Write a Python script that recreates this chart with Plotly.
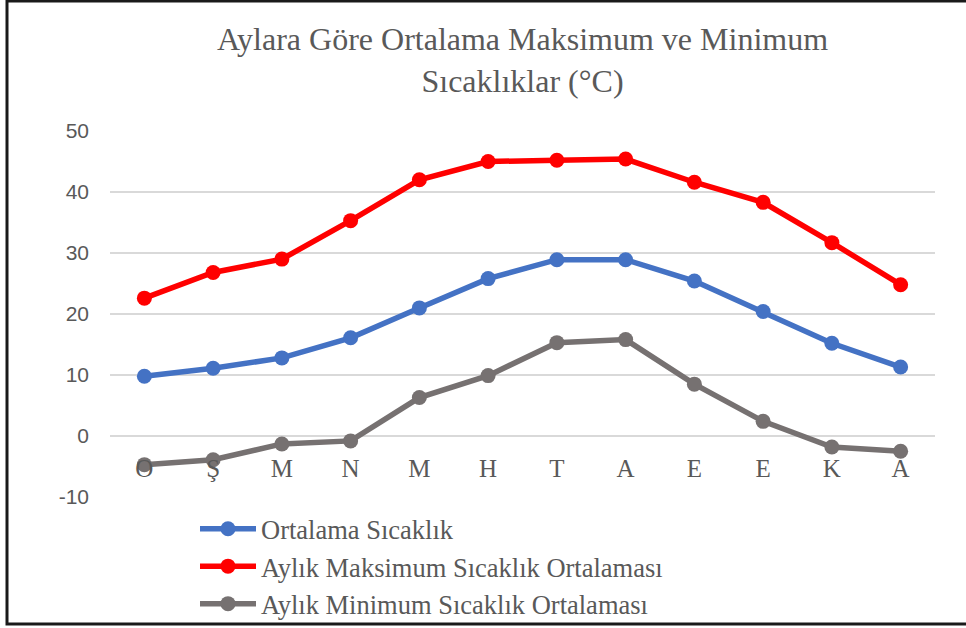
import plotly.graph_objects as go

months = ["O", "Ş", "M", "N", "M", "H", "T", "A", "E", "E", "K", "A"]
ortalama = [9.8, 11.1, 12.8, 16.1, 21.0, 25.8, 28.9, 28.9, 25.4, 20.4, 15.2, 11.3]
maksimum = [22.6, 26.8, 29.0, 35.3, 42.0, 45.0, 45.2, 45.4, 41.6, 38.3, 31.7, 24.8]
minimum = [-4.7, -3.9, -1.3, -0.8, 6.3, 9.9, 15.3, 15.8, 8.5, 2.4, -1.8, -2.5]
series_names = ["Ortalama Sıcaklık", "Aylık Maksimum Sıcaklık Ortalaması", "Aylık Minimum Sıcaklık Ortalaması"]
colors = ["#4472C4", "#FF0000", "#767171"]
y_ticks = [-10, 0, 10, 20, 30, 40, 50]
y_tick_labels = ["-10", "0", "10", "20", "30", "40", "50"]
title_text = "Aylara Göre Ortalama Maksimum ve Minimum<br>Sıcaklıklar (°C)"

x_idx = list(range(len(months)))

fig = go.Figure()
for name, vals, col in zip(series_names, [ortalama, maksimum, minimum], colors):
    fig.add_trace(go.Scatter(
        x=x_idx, y=vals, name=name, mode="lines+markers",
        line=dict(color=col, width=5.5),
        marker=dict(color=col, size=15),
        cliponaxis=False,
    ))

L, R, T, B = 110, 31, 131, 131
W, H = 966, 628
ph = H - T - B
pw = W - L - R

fig.update_layout(
    width=W, height=H,
    margin=dict(l=L, r=R, t=T, b=B, autoexpand=False),
    paper_bgcolor="white", plot_bgcolor="white",
    title=dict(text=title_text, x=0.5, xref="paper", y=1 - 50 / H, yref="container", yanchor="top",
               font=dict(family="Liberation Serif", size=32, color="#595959")),
    xaxis=dict(
        tickmode="array", tickvals=x_idx, ticktext=months,
        range=[-0.5, len(months) - 0.5],
        showgrid=False, zeroline=False, showline=False, ticks="",
        anchor="free", position=(497 - 436) / ph,
        ticklabelstandoff=15,
        tickfont=dict(family="Liberation Serif", size=25, color="#595959"),
    ),
    yaxis=dict(
        range=[-10, 50], tickmode="array", tickvals=y_ticks, ticktext=y_tick_labels,
        showgrid=True, gridcolor="#D9D9D9", gridwidth=1.5, zeroline=False, showline=False,
        ticks="", ticklabelstandoff=20,
        tickfont=dict(family="Liberation Sans", size=21, color="#595959"),
    ),
    legend=dict(
        x=195 / W, xref="container", y=1 - 505 / H, yref="container",
        xanchor="left", yanchor="top", itemwidth=56,
        font=dict(family="Liberation Serif", size=26.5, color="#595959"),
        bgcolor="rgba(0,0,0,0)", tracegroupgap=0,
    ),
    shapes=[dict(type="rect", xref="paper", yref="paper",
                 x0=(7 - L) / pw, x1=(968 - L) / pw,
                 y0=(497 - 624) / ph, y1=(497 - 1) / ph,
                 line=dict(color="#1a1a1a", width=3), layer="above")],
    showlegend=True,
)

fig.write_html("out.html", config={"displayModeBar": False},
               post_script="document.body.style.margin='0';")
